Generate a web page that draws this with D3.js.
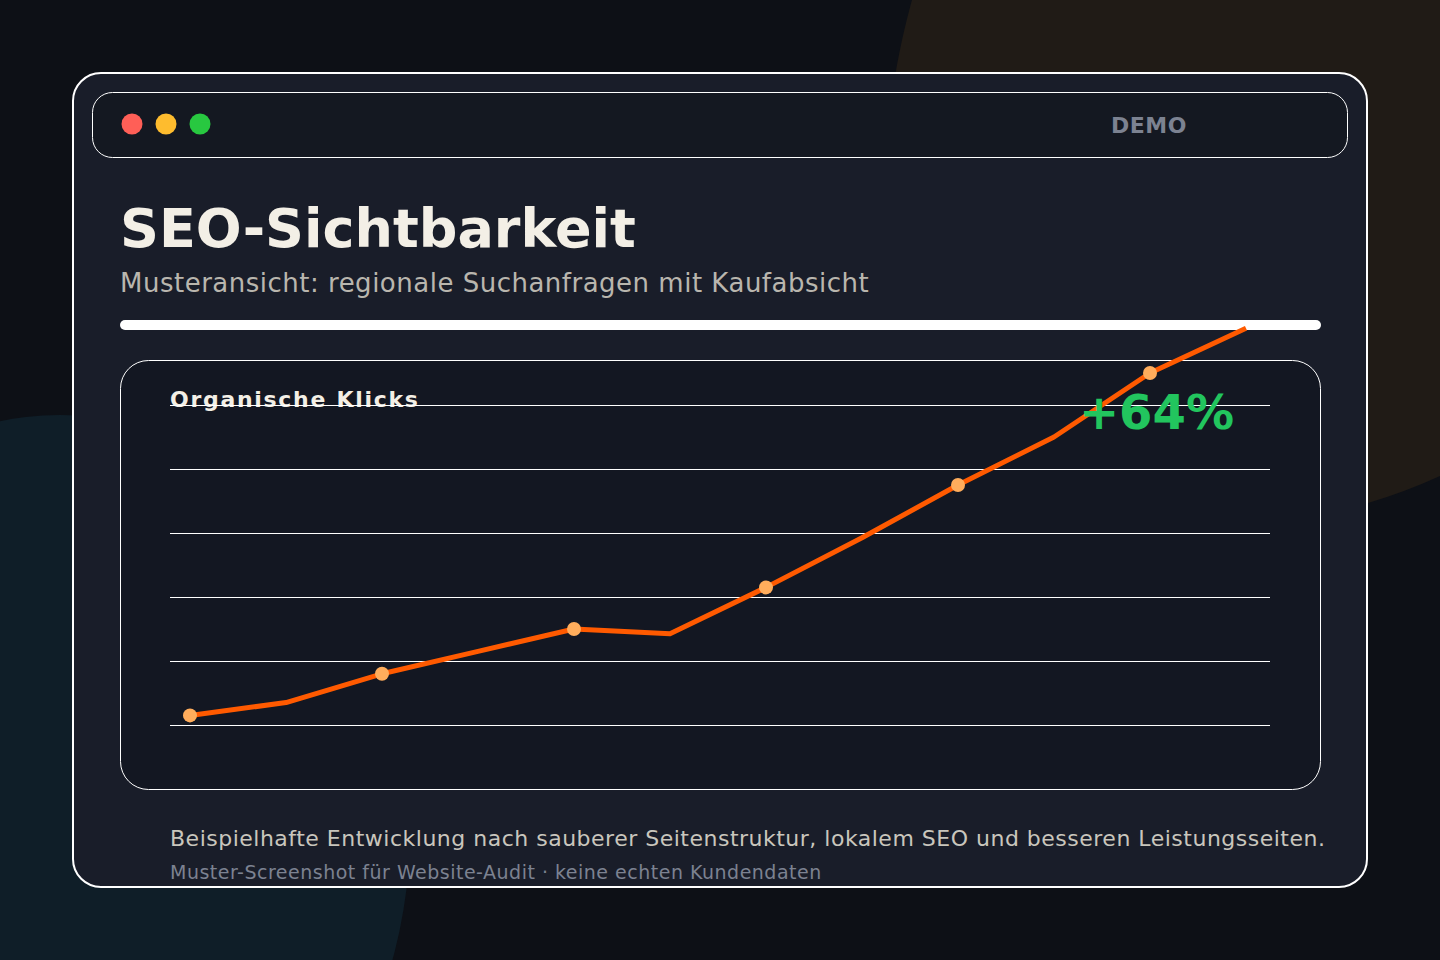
<!DOCTYPE html>
<html lang="de">
<head>
<meta charset="utf-8">
<script src="https://cdn.jsdelivr.net/npm/d3@7"></script>
<style>
  html, body { margin: 0; padding: 0; background: #0d1016; }
  svg { display: block; font-family: "DejaVu Sans", sans-serif; }
</style>
</head>
<body>
<svg id="chart" width="1440" height="960"></svg>
<script>
// ---- data ----
const months = ["Jan", "Feb", "Mär", "Apr", "Mai", "Jun", "Jul", "Aug", "Sep", "Okt", "Nov", "Dez"];
const clicks = [3, 7, 16, 23, 30, 28.5, 43, 58.5, 75, 90, 110, 124];
const gridTicks = [0, 20, 40, 60, 80, 100];
const title = "SEO-Sichtbarkeit";
const subtitle = "Musteransicht: regionale Suchanfragen mit Kaufabsicht";
const panelLabel = "Organische Klicks";
const growthLabel = "+64%";
const footNote = "Beispielhafte Entwicklung nach sauberer Seitenstruktur, lokalem SEO und besseren Leistungsseiten.";
const footSmall = "Muster-Screenshot für Website-Audit · keine echten Kundendaten";
const badge = "DEMO";
const windowDots = ["#ff5f57", "#febc2e", "#28c840"];

const svg = d3.select("#chart");

// background
svg.append("rect").attr("width", 1440).attr("height", 960).attr("fill", "#0d1016");
svg.append("path")
  .attr("d", "M912,0 C890,80 870,200 900,330 L1368,503 Q1405,492 1440,476 L1440,0 Z")
  .attr("fill", "#201b16");
svg.append("ellipse")
  .attr("cx", 60).attr("cy", 830).attr("rx", 350).attr("ry", 415)
  .attr("fill", "#0f1e28");

// outer card
svg.append("rect")
  .attr("x", 73).attr("y", 73).attr("width", 1294).attr("height", 814)
  .attr("rx", 28).attr("fill", "#191d29").attr("stroke", "#ffffff").attr("stroke-width", 2);

// title bar
svg.append("rect")
  .attr("x", 92.5).attr("y", 92.5).attr("width", 1255).attr("height", 65)
  .attr("rx", 20).attr("fill", "#141821").attr("stroke", "#ffffff").attr("stroke-width", 1);

svg.selectAll("circle.dot").data(windowDots).join("circle")
  .attr("class", "dot")
  .attr("cx", (d, i) => 132 + i * 34).attr("cy", 124).attr("r", 10.5)
  .attr("fill", d => d);

svg.append("text").attr("x", 1111).attr("y", 133)
  .attr("font-size", 22).attr("font-weight", "bold").attr("fill", "#7c8291")
  .attr("letter-spacing", 0.5)
  .text(badge);

// headings
svg.append("text").attr("x", 120).attr("y", 247)
  .attr("font-size", 54).attr("font-weight", "bold").attr("fill", "#f3efe6")
  .text(title);
svg.append("text").attr("x", 120).attr("y", 292)
  .attr("font-size", 26).attr("fill", "#b9b6ae")
  .attr("letter-spacing", 0.5)
  .text(subtitle);

// white bar
svg.append("rect").attr("x", 120).attr("y", 320).attr("width", 1201).attr("height", 10)
  .attr("rx", 5).attr("fill", "#ffffff");

// chart panel
svg.append("rect")
  .attr("x", 120.5).attr("y", 360.5).attr("width", 1200).attr("height", 429)
  .attr("rx", 28).attr("fill", "#131722").attr("stroke", "#ffffff").attr("stroke-width", 1);

svg.append("text").attr("x", 170).attr("y", 407)
  .attr("font-size", 22).attr("font-weight", "bold").attr("fill", "#f3efe6")
  .attr("letter-spacing", 1.7)
  .text(panelLabel);

// scales
const x = d3.scalePoint().domain(months).range([190, 1246]);
const y = d3.scaleLinear().domain([0, 100]).range([725, 405]);

// grid
const gridAxis = d3.axisLeft(y).tickValues(gridTicks).tickSize(-1100).tickFormat("");
const g = svg.append("g").attr("transform", "translate(170,0)").call(gridAxis);
g.select(".domain").remove();
g.selectAll(".tick line").attr("stroke", "#ffffff").attr("stroke-width", 1);

// line
const data = months.map((m, i) => ({ m, v: clicks[i], i }));
const line = d3.line().x(d => x(d.m)).y(d => y(d.v));
svg.append("path").datum(data)
  .attr("d", line)
  .attr("fill", "none").attr("stroke", "#ff5a00").attr("stroke-width", 5)
  .attr("stroke-linejoin", "round");

svg.selectAll("circle.pt").data(data.filter(d => d.i % 2 === 0)).join("circle")
  .attr("class", "pt")
  .attr("cx", d => x(d.m)).attr("cy", d => y(d.v)).attr("r", 7)
  .attr("fill", "#ffad5c");

// growth label
svg.append("text").attr("x", 1234).attr("y", 429)
  .attr("text-anchor", "end")
  .attr("font-size", 48).attr("font-weight", "bold").attr("fill", "#22c55e")
  .text(growthLabel);

// footer
svg.append("text").attr("x", 170).attr("y", 846)
  .attr("font-size", 22).attr("fill", "#c9c6bd")
  .attr("letter-spacing", 0.5)
  .text(footNote);
svg.append("text").attr("x", 170).attr("y", 879)
  .attr("font-size", 19).attr("fill", "#7c8291")
  .attr("letter-spacing", 0.5)
  .text(footSmall);
</script>
</body>
</html>
